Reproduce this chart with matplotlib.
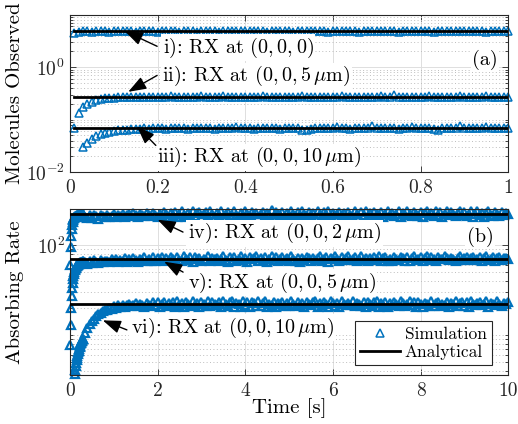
import numpy as np
import matplotlib
matplotlib.use("Agg")
import matplotlib.pyplot as plt
from matplotlib.ticker import LogLocator, LogFormatterMathtext, NullFormatter, FuncFormatter

plt.rcParams.update({
    'font.family': 'serif',
    'font.serif': ['cmr10'],
    'mathtext.fontset': 'cm',
    'axes.formatter.use_mathtext': True,
    'axes.unicode_minus': False,
})

# ---------------- data, panel (a): molecules observed ----------------
t_a = np.round(np.arange(1, 101) * 0.01, 2)

sim_i = [
    4.55, 4.78, 4.83, 4.90, 4.81, 4.88, 4.93, 4.84, 4.79, 4.91,
    4.86, 4.82, 4.95, 4.87, 4.80, 4.89, 4.84, 4.92, 4.85, 4.78,
    4.90, 4.86, 4.83, 4.94, 4.81, 4.88, 4.85, 4.91, 4.79, 4.87,
    4.84, 4.92, 4.86, 4.80, 4.89, 4.83, 4.95, 4.85, 4.88, 4.82,
    4.90, 4.84, 4.87, 4.93, 4.81, 4.86, 4.89, 4.83, 4.91, 4.85,
    4.80, 4.88, 4.94, 4.84, 4.87, 4.82, 4.90, 4.86, 4.79, 4.92,
    4.85, 4.88, 4.83, 4.91, 4.86, 4.81, 4.89, 4.84, 4.93, 4.87,
    4.82, 4.90, 4.85, 4.88, 4.80, 4.92, 4.86, 4.83, 4.89, 4.84,
    4.91, 4.87, 4.81, 4.94, 4.85, 4.88, 4.83, 4.90, 4.86, 4.82,
    4.89, 4.84, 4.92, 4.87, 4.80, 4.88, 4.85, 4.91, 4.83, 4.86]

sim_ii = [
    0.070, 0.136, 0.173, 0.200, 0.222, 0.239, 0.250, 0.256, 0.261, 0.264,
    0.266, 0.269, 0.268, 0.272, 0.270, 0.274, 0.271, 0.276, 0.273, 0.269,
    0.275, 0.272, 0.278, 0.270, 0.274, 0.277, 0.271, 0.275, 0.273, 0.279,
    0.270, 0.276, 0.272, 0.274, 0.278, 0.271, 0.275, 0.269, 0.277, 0.273,
    0.276, 0.270, 0.274, 0.279, 0.272, 0.275, 0.271, 0.277, 0.273, 0.270,
    0.276, 0.274, 0.278, 0.271, 0.275, 0.272, 0.277, 0.270, 0.274, 0.276,
    0.273, 0.279, 0.271, 0.275, 0.272, 0.277, 0.274, 0.270, 0.276, 0.273,
    0.278, 0.272, 0.275, 0.290, 0.274, 0.271, 0.277, 0.273, 0.276, 0.270,
    0.275, 0.278, 0.272, 0.274, 0.277, 0.271, 0.276, 0.273, 0.279, 0.272,
    0.275, 0.270, 0.277, 0.274, 0.278, 0.272, 0.276, 0.273, 0.275, 0.274]

sim_iii = [
    0.0, 0.0, 0.030, 0.036, 0.042, 0.048, 0.053, 0.056, 0.059, 0.061,
    0.063, 0.064, 0.065, 0.066, 0.067, 0.066, 0.068, 0.067, 0.069, 0.068,
    0.070, 0.067, 0.069, 0.071, 0.068, 0.070, 0.067, 0.069, 0.071, 0.068,
    0.070, 0.069, 0.067, 0.071, 0.069, 0.068, 0.070, 0.072, 0.068, 0.069,
    0.071, 0.067, 0.070, 0.069, 0.071, 0.068, 0.070, 0.067, 0.069, 0.071,
    0.068, 0.070, 0.065, 0.064, 0.067, 0.069, 0.071, 0.068, 0.070, 0.069,
    0.072, 0.068, 0.070, 0.067, 0.071, 0.069, 0.068, 0.070, 0.075, 0.069,
    0.071, 0.068, 0.070, 0.069, 0.067, 0.071, 0.069, 0.072, 0.068, 0.070,
    0.069, 0.071, 0.066, 0.065, 0.068, 0.070, 0.069, 0.071, 0.075, 0.070,
    0.068, 0.071, 0.069, 0.070, 0.072, 0.068, 0.070, 0.069, 0.071, 0.070]

ana_a = [4.86, 0.273, 0.069]

# ---------------- data, panel (b): absorbing rate ----------------
# 0.01 s steps up to 0.3 s, then 0.05 s steps up to 10 s
t_b = np.concatenate([np.round(np.arange(1, 31) * 0.01, 2),
                      np.round(np.arange(7, 201) * 0.05, 2)])

sim_iv = [
    60, 95, 125, 150, 168, 180, 190, 196, 200, 203,
    205, 207, 208, 210, 211, 212, 212, 213, 214, 214,
    215, 216, 215, 217, 216, 218, 217, 218, 219, 218,
    204, 198, 212, 201, 215, 207, 196, 214, 209, 203,
    217, 205, 211, 220, 202, 214, 209, 222, 206, 216,
    219, 208, 224, 212, 203, 221, 215, 207, 226, 213,
    209, 228, 216, 204, 223, 211, 230, 218, 206, 225,
    214, 232, 205, 221, 236, 212, 203, 227, 217, 238,
    208, 224, 234, 204, 219, 229, 211, 240, 220, 206,
    226, 213, 235, 203, 222, 231, 209, 217, 237, 215,
    205, 228, 212, 239, 221, 207, 233, 218, 225, 202,
    219, 234, 210, 227, 214, 241, 206, 230, 221, 212,
    232, 204, 224, 216, 238, 219, 208, 229, 213, 236,
    220, 207, 231, 215, 226, 203, 235, 218, 210, 233,
    222, 239, 211, 228, 205, 220, 234, 214, 227, 208,
    230, 217, 206, 237, 223, 204, 229, 215, 240, 211,
    225, 209, 233, 219, 212, 231, 203, 221, 236, 216,
    228, 210, 220, 235, 206, 226, 214, 238, 222, 207,
    232, 218, 211, 234, 204, 224, 237, 213, 227, 209,
    236, 216, 229, 205, 221, 240, 212, 230, 219, 207,
    224, 238, 214, 231, 208, 222, 235, 203, 218, 239,
    213, 228, 206, 225, 236, 217, 210, 233, 221, 209,
    230, 215, 226, 219]

sim_v = [
    7.7, 12.9, 20.0, 27.0, 33.0, 38.0, 42.0, 45.0, 48.0, 50.0,
    52.0, 54.0, 55.5, 57.0, 58.0, 59.0, 60.0, 60.5, 61.5, 62.0,
    62.5, 63.0, 63.5, 64.0, 64.2, 64.6, 65.0, 65.3, 65.6, 65.8,
    64.0, 61.8, 66.9, 63.2, 67.5, 65.0, 62.6, 68.4, 64.7, 67.0,
    66.2, 63.9, 69.1, 65.5, 70.2, 64.1, 68.0, 66.7, 71.0, 65.2,
    69.3, 66.0, 71.8, 67.2, 64.8, 70.5, 68.6, 72.4, 65.9, 69.8,
    67.0, 73.1, 65.4, 70.9, 68.2, 74.0, 66.3, 71.5, 67.8, 72.9,
    69.5, 65.1, 73.6, 68.4, 66.0, 75.2, 70.1, 67.3, 72.5, 64.9,
    73.8, 68.9, 71.2, 65.6, 70.4, 67.7, 75.0, 66.4, 72.2, 69.0,
    71.7, 65.8, 69.6, 74.6, 67.2, 64.6, 72.8, 68.5, 73.5, 66.1,
    70.3, 75.4, 67.9, 71.9, 65.3, 73.0, 69.2, 70.8, 74.3, 66.6,
    71.1, 68.1, 73.7, 64.8, 70.0, 75.5, 67.4, 72.6, 66.2, 69.9,
    74.1, 67.6, 71.4, 65.7, 74.8, 69.3, 66.9, 72.3, 65.0, 71.6,
    68.7, 73.9, 70.6, 66.5, 72.0, 68.0, 71.3, 75.1, 66.8, 70.2,
    73.2, 65.2, 71.8, 68.8, 74.5, 69.7, 66.3, 72.7, 67.5, 70.9,
    75.3, 67.1, 70.5, 73.4, 65.5, 69.4, 74.7, 68.3, 72.1, 65.9,
    71.0, 67.8, 73.3, 69.1, 75.0, 66.0, 70.7, 72.9, 67.0, 70.4,
    65.4, 73.6, 70.1, 68.6, 74.2, 71.5, 66.7, 72.4, 65.8, 70.8,
    74.9, 68.2, 69.8, 73.1, 66.4, 71.2, 75.2, 67.7, 72.5, 69.5,
    66.2, 73.8, 70.3, 68.9, 74.4, 71.7, 67.3, 72.2, 70.0, 65.6,
    71.8, 75.0, 68.4, 70.6, 73.5, 67.2, 71.4, 74.1, 68.0, 70.2,
    72.7, 66.9, 71.1, 75.3, 68.7, 69.6, 73.0, 65.7, 71.6, 74.0,
    68.5, 72.0, 70.9, 69.2]

sim_vi = [
    0.0, 0.0, 0.0, 0.9, 1.2, 1.5, 1.9, 2.3, 2.8, 3.3,
    3.7, 4.1, 4.5, 4.9, 5.2, 5.5, 5.8, 6.1, 6.4, 6.7,
    7.0, 7.3, 7.6, 7.9, 8.1, 8.3, 8.5, 8.7, 8.9, 9.1,
    10.6, 12.0, 13.2, 14.2, 15.0, 16.1, 16.9, 17.6, 18.3, 18.9,
    19.0, 20.1, 19.6, 20.9, 19.8, 21.3, 20.4, 21.7, 20.6, 21.2,
    22.0, 20.7, 21.6, 22.5, 20.9, 22.3, 21.4, 20.6, 22.8, 21.5,
    20.8, 22.9, 21.7, 23.2, 20.5, 22.1, 23.4, 21.0, 22.6, 21.3,
    23.0, 20.6, 23.5, 21.4, 22.7, 20.4, 23.3, 21.9, 20.8, 23.7,
    21.5, 22.8, 20.3, 23.4, 22.0, 21.1, 23.8, 20.7, 22.9, 21.8,
    21.2, 23.1, 20.5, 23.6, 21.9, 20.9, 23.2, 23.9, 20.6, 22.5,
    22.2, 20.4, 23.5, 21.6, 22.9, 20.3, 23.3, 22.4, 21.0, 23.8,
    20.9, 22.6, 23.7, 20.6, 22.3, 21.3, 23.1, 20.5, 22.8, 21.9,
    23.4, 21.1, 22.5, 20.7, 23.9, 21.8, 20.8, 23.0, 21.6, 22.7,
    20.4, 23.3, 22.1, 21.2, 22.9, 23.6, 20.6, 22.4, 21.5, 23.2,
    21.9, 20.5, 23.5, 22.6, 21.0, 22.8, 20.3, 23.7, 22.0, 21.3,
    22.7, 21.4, 23.9, 20.7, 22.5, 21.8, 20.9, 23.3, 20.4, 23.0,
    22.3, 20.8, 22.9, 23.6, 20.6, 22.4, 21.7, 23.4, 20.5, 22.8,
    21.2, 23.1, 22.0, 20.7, 23.5, 22.6, 20.9, 22.2, 23.8, 21.5,
    22.9, 20.6, 23.2, 21.8, 20.4, 22.7, 22.1, 21.0, 23.6, 20.8,
    22.4, 23.4, 20.9, 22.0, 21.6, 23.0, 20.3, 22.8, 21.9, 23.7,
    20.7, 22.5, 23.3, 21.1, 22.9, 20.5, 23.6, 22.2, 21.3, 22.6,
    23.1, 21.4, 22.0, 23.5, 20.6, 22.7, 22.3, 21.2, 23.9, 21.8,
    20.9, 22.8, 22.1, 23.0]

ana_b = [221, 70, 22.1]

xticks_a = [0, 0.2, 0.4, 0.6, 0.8, 1]
xticks_b = [0, 2, 4, 6, 8, 10]

labels_a = ["i): RX at $(0,0,0)$",
            "ii): RX at $(0,0,5\\,\\mu\\mathrm{m})$",
            "iii): RX at $(0,0,10\\,\\mu\\mathrm{m})$"]
labels_b = ["iv): RX at $(0,0,2\\,\\mu\\mathrm{m})$",
            "v): RX at $(0,0,5\\,\\mu\\mathrm{m})$",
            "vi): RX at $(0,0,10\\,\\mu\\mathrm{m})$"]

BLUE = '#0072BD'
GRID_MAJ = '#dedede'
GRID_MIN = '#bdbdbd'
FS_TICK = 14
FS_LABEL = 15
FS_NOTE = 14.5


def sim_plot(ax, t, y, ylim, mew=1.1, label=None):
    t = np.asarray(t, dtype=float)
    y = np.asarray(y, dtype=float)
    keep = (y >= ylim[0]) & (y <= ylim[1])
    return ax.plot(t[keep], y[keep], ls='none', marker='^', ms=5.5, mfc='none',
                   mec=BLUE, mew=mew, clip_on=False, zorder=2, label=label)


def style_axis(ax, xlim, xticks, ylim, yticks):
    ax.set_yscale('log')
    ax.set_xlim(xlim)
    ax.set_ylim(ylim)
    ax.set_xticks(xticks)
    ax.xaxis.set_major_formatter(FuncFormatter(lambda v, p: '%g' % v))
    ax.set_yticks(yticks)
    ax.yaxis.set_major_formatter(LogFormatterMathtext())
    ax.yaxis.set_minor_locator(LogLocator(base=10, subs=np.arange(1, 10), numticks=100))
    ax.yaxis.set_minor_formatter(NullFormatter())
    ax.tick_params(which='both', direction='in', top=True, right=True,
                   labelsize=FS_TICK, colors='#262626', width=0.6)
    ax.tick_params(which='major', length=4)
    ax.tick_params(which='minor', length=2)
    ax.tick_params(axis='x', pad=5)
    ax.grid(True, which='major', color=GRID_MAJ, lw=0.7, ls='-')
    ax.grid(True, which='minor', axis='y', color=GRID_MIN, lw=0.7, ls=(0, (1, 2.5)))
    ax.set_axisbelow(True)
    for s in ax.spines.values():
        s.set_linewidth(0.8)
        s.set_color('#262626')


def note(ax, text, xy, tail, pos):
    ax.annotate('', xy=xy, xycoords='data', xytext=tail, textcoords='axes fraction',
                arrowprops=dict(arrowstyle='-|>,head_length=0.55,head_width=0.2',
                                mutation_scale=20, color='k', lw=1,
                                shrinkA=0, shrinkB=0), zorder=6)
    ax.text(pos[0], pos[1], text, transform=ax.transAxes, ha='left', va='center',
            fontsize=FS_NOTE, zorder=5,
            bbox=dict(facecolor='white', edgecolor='none', pad=1.0))


fig = plt.figure(figsize=(5.18, 4.24), dpi=100)
ax1 = fig.add_axes([0.135, 0.594, 0.846, 0.371])
ax2 = fig.add_axes([0.135, 0.116, 0.846, 0.391])

# ---- panel (a)
ylim_a = (1e-2, 1e1)
style_axis(ax1, (0, 1), xticks_a, ylim_a, [1e-2, 1e0])
for y in (sim_i, sim_ii, sim_iii):
    sim_plot(ax1, t_a, y, ylim_a)
for v in ana_a:
    ax1.plot([t_a[0], t_a[-1]], [v, v], color='k', lw=2, zorder=3)
ax1.set_ylabel('Molecules Observed', fontsize=FS_LABEL)
ax1.yaxis.set_label_coords(-0.105, 0.5)

note(ax1, labels_a[0], (0.125, 4.9), (0.199, 0.80), (0.212, 0.79))
note(ax1, labels_a[1], (0.133, 0.34), (0.199, 0.615), (0.21, 0.611))
note(ax1, labels_a[2], (0.153, 0.075), (0.196, 0.17), (0.199, 0.096))
ax1.text(0.947, 0.713, '(a)', transform=ax1.transAxes, ha='center', va='center',
         fontsize=FS_NOTE, zorder=5, bbox=dict(facecolor='white', edgecolor='none', pad=1.0))

# ---- panel (b)
ylim_b = (3.6, 250)
style_axis(ax2, (0, 10), xticks_b, ylim_b, [1e2])
h_sim = None
for y in (sim_iv, sim_v, sim_vi):
    h_sim = sim_plot(ax2, t_b, y, ylim_b, mew=1.6, label='Simulation')[0]
h_ana = None
for v in ana_b:
    h_ana = ax2.plot([t_b[0], t_b[-1]], [v, v], color='k', lw=2, zorder=3,
                     label='Analytical')[0]
ax2.set_ylabel('Absorbing Rate', fontsize=FS_LABEL)
ax2.yaxis.set_label_coords(-0.105, 0.5)
ax2.set_xlabel('Time [s]', fontsize=FS_LABEL)
ax2.xaxis.set_label_coords(0.5, -0.14)

note(ax2, labels_b[0], (2.0, 190), (0.258, 0.861), (0.269, 0.855))
note(ax2, labels_b[1], (2.15, 65), (0.258, 0.62), (0.269, 0.554))
note(ax2, labels_b[2], (0.75, 14.5), (0.130, 0.271), (0.139, 0.283))
ax2.text(0.936, 0.831, '(b)', transform=ax2.transAxes, ha='center', va='center',
         fontsize=FS_NOTE, zorder=5, bbox=dict(facecolor='white', edgecolor='none', pad=1.0))

h_leg = ax2.plot([], [], ls='none', marker='^', ms=5.5, mfc='none', mec=BLUE, mew=1.1)[0]
leg = ax2.legend([h_leg, h_ana], ['Simulation', 'Analytical'], loc='lower right',
                 bbox_to_anchor=(0.963, 0.06), borderaxespad=0, fontsize=12.5,
                 numpoints=1, handlelength=2.3, handletextpad=0.3, labelspacing=0.15,
                 borderpad=0.3, fancybox=False, framealpha=1, edgecolor='#262626')
leg.get_frame().set_linewidth(0.8)
leg.set_zorder(7)

fig.savefig('out.png', dpi=100)
